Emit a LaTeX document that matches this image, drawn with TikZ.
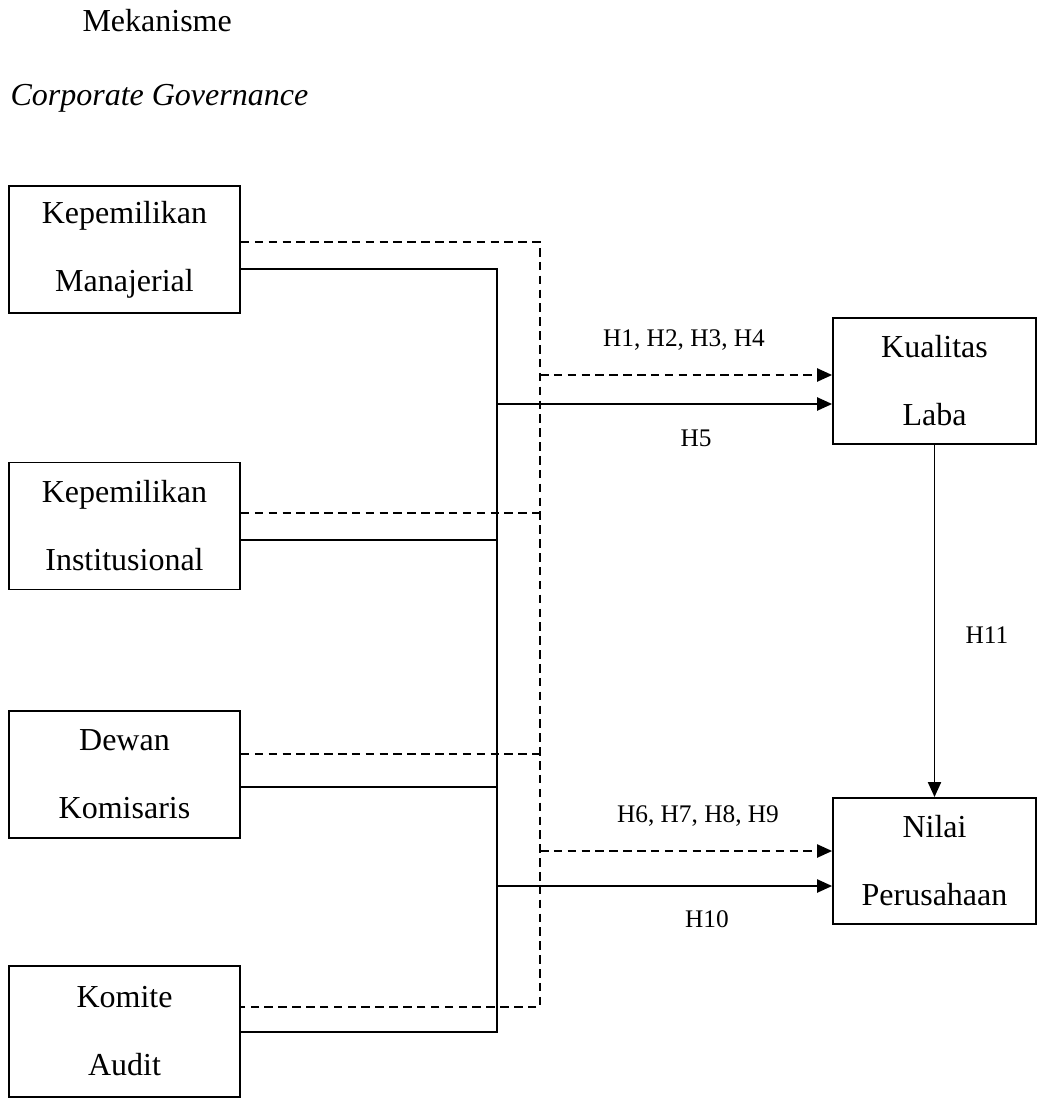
\documentclass[tikz,border=0pt]{standalone}
\usepackage{fontspec}
\setmainfont{Liberation Serif}
\usetikzlibrary{arrows.meta}

\tikzset{
  var/.style={draw, line width=0.7pt, minimum width=86.6pt, minimum height=47.6pt,
    inner sep=0pt, align=center, font=\fontsize{12pt}{25.5pt}\selectfont},
  outvar/.style={var, minimum width=76.1pt, minimum height=47.3pt},
  hyp/.style={inner sep=0pt, anchor=base, font=\fontsize{9.5pt}{11pt}\selectfont},
  title/.style={inner sep=0pt, anchor=base west, font=\fontsize{12pt}{14pt}\selectfont},
  link/.style={line width=0.7pt},
  dlink/.style={line width=0.7pt, dash pattern=on 3.2pt off 2pt},
  tip/.style={-{Triangle[length=5.6pt,width=4.9pt]}}
}

\begin{document}
\begin{tikzpicture}[x=0.375pt, y=-0.375pt]
    \useasboundingbox (0,0) rectangle (1039,1106);

    % heading
    \node[title] (mek) at (82,31) {Mekanisme};
    \node[title, font=\fontsize{12pt}{14pt}\selectfont\itshape] (cg) at (10,105) {Corporate Governance};

    % independent variables
    \node[var] (km) at (124.5,249.5) {Kepemilikan\\Manajerial};
    \node[var] (ki) at (124.5,526) {Kepemilikan\\Institusional};
    \node[var] (dk) at (124.5,774.5) {Dewan\\Komisaris};
    \node[var, minimum height=49pt] (ka) at (124.5,1031.5) {Komite\\Audit};

    % dependent variables
    \node[outvar] (kl) at (934.5,381) {Kualitas\\Laba};
    \node[outvar] (np) at (934.5,861) {Nilai\\Perusahaan};

    % collecting lines
    \coordinate (dtop) at (540,242);
    \coordinate (dbot) at (540,1007);
    \coordinate (stop) at (497,269);
    \coordinate (sbot) at (497,1032);

    \draw[dlink] (km.east |- dtop) -- (dtop) -- (dbot) -- (ka.east |- dbot);
    \draw[link] (km.east |- stop) -- (stop) -- (sbot) -- (ka.east |- sbot);
    \draw[dlink] (ki.east |- 0,513) -- (dtop |- 0,513);
    \draw[link] (ki.east |- 0,540) -- (stop |- 0,540);
    \draw[dlink] (dk.east |- 0,754) -- (dtop |- 0,754);
    \draw[link] (dk.east |- 0,787) -- (stop |- 0,787);

    % arrows
    \draw[dlink, tip] (dtop |- 0,375) -- (kl.west |- 0,375);
    \draw[link, tip] (stop |- 0,404) -- (kl.west |- 0,404);
    \draw[dlink, tip] (dtop |- 0,851) -- (np.west |- 0,851);
    \draw[link, tip] (stop |- 0,886) -- (np.west |- 0,886);
    \draw[link, tip] (kl.south) -- (np.north);

    % hypotheses
    \node[hyp] (h1) at (684,346) {H1, H2, H3, H4};
    \node[hyp] (h5) at (696,446) {H5};
    \node[hyp] (h6) at (698,822) {H6, H7, H8, H9};
    \node[hyp] (h10) at (707,927) {H10};
    \node[hyp] (h11) at (987,643) {H11};
\end{tikzpicture}
\end{document}
